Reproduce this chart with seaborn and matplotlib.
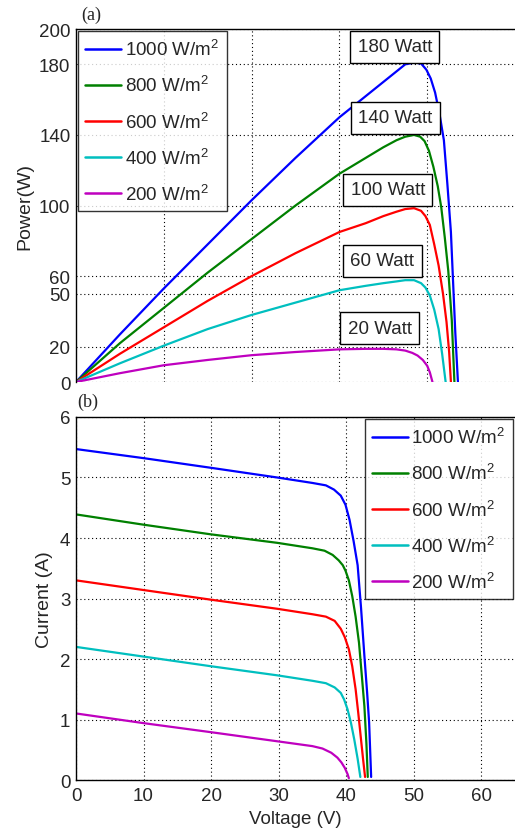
import pandas as pd
import matplotlib.pyplot as plt
import seaborn as sns

sns.set_theme(style="white")
plt.rcParams["font.family"] = ["Liberation Sans", "DejaVu Sans"]
plt.rcParams["mathtext.fontset"] = "custom"
plt.rcParams["mathtext.rm"] = "Liberation Sans"

labels = ["1000 W/m$^2$", "800 W/m$^2$", "600 W/m$^2$", "400 W/m$^2$", "200 W/m$^2$"]
colors = [(0, 0, 1), (0, 0.5, 0), (1, 0, 0), (0, 0.75, 0.75), (0.75, 0, 0.75)]

# P-V curves (voltage V, power W)
pv_v_1000 = [0, 5, 10, 15, 20, 25, 30, 33, 35, 36.5, 37.5, 38.5, 39.3, 39.9, 40.4, 40.9, 41.4, 41.9, 42.3, 42.7, 43.2, 43.5]
pv_p_1000 = [0, 27, 53, 78, 103, 127, 150, 162, 170, 176, 180, 181, 180.5, 177, 172, 164, 152, 137, 112, 85, 28, 0]
pv_v_800 = [0, 5, 10, 15, 20, 25, 30, 33, 35, 36.5, 37.5, 38.5, 39.2, 39.7, 40.2, 40.7, 41.2, 41.6, 42.0, 42.4, 42.8, 43.1]
pv_p_800 = [0, 22, 42, 62, 81, 100, 118, 127, 133, 137, 139, 140, 139, 136.5, 131, 122, 111, 99, 82, 63, 35, 0]
pv_v_600 = [0, 5, 10, 15, 20, 25, 30, 33, 35, 36.5, 37.5, 38.5, 39.3, 39.8, 40.3, 40.8, 41.3, 41.8, 42.2, 42.5, 42.7]
pv_p_600 = [0, 16, 31, 46, 60, 73, 85, 90, 94, 96.5, 98, 98.5, 97, 94, 89, 78, 66, 50, 34, 17, 0]
pv_v_400 = [0, 5, 10, 15, 20, 25, 30, 33, 35, 36.5, 37.5, 38.5, 39.3, 39.8, 40.3, 40.8, 41.3, 41.7, 42.1]
pv_p_400 = [0, 10.6, 20.6, 30, 38, 45, 52, 54.5, 56, 57, 57.7, 57.7, 56, 53.5, 49, 41, 30, 16, 0]
pv_v_200 = [0, 5, 10, 15, 20, 25, 30, 33, 35, 36.5, 37.5, 38.3, 38.9, 39.5, 40.0, 40.3, 40.6]
pv_p_200 = [0, 5, 9.5, 12.5, 15.2, 17, 18.5, 18.8, 18.8, 18.5, 17.8, 16.5, 15, 12.5, 9.2, 5.5, 0]

# I-V curves (voltage V, current A)
iv_v_1000 = [0, 10, 20, 29.8, 35, 37, 38.2, 39.2, 39.9, 40.5, 41.1, 41.7, 42.2, 42.7, 43.1, 43.4, 43.7]
iv_i_1000 = [5.47, 5.32, 5.16, 5.0, 4.91, 4.87, 4.8, 4.7, 4.55, 4.3, 3.95, 3.55, 2.85, 2.05, 1.45, 0.95, 0.05]
iv_v_800 = [0, 10, 20, 29.8, 35, 36.8, 38, 38.9, 39.5, 39.9, 40.4, 40.9, 41.4, 41.9, 42.3, 42.7, 43.0, 43.2]
iv_i_800 = [4.39, 4.22, 4.06, 3.92, 3.83, 3.79, 3.72, 3.63, 3.55, 3.46, 3.3, 3.04, 2.7, 2.27, 1.75, 1.22, 0.6, 0.05]
iv_v_600 = [0, 10, 20, 29.8, 35, 37, 38.3, 39.2, 39.8, 40.4, 40.9, 41.4, 41.8, 42.2, 42.5, 42.8]
iv_i_600 = [3.3, 3.14, 2.98, 2.83, 2.74, 2.7, 2.63, 2.5, 2.36, 2.16, 1.88, 1.5, 1.1, 0.67, 0.35, 0.05]
iv_v_400 = [0, 10, 20, 29.8, 35, 37, 38.3, 39.2, 39.7, 40.2, 40.7, 41.2, 41.7, 42.1]
iv_i_400 = [2.2, 2.04, 1.88, 1.73, 1.64, 1.6, 1.53, 1.44, 1.33, 1.17, 0.95, 0.67, 0.35, 0.05]
iv_v_200 = [0, 10, 20, 29.8, 35, 36.5, 37.8, 38.7, 39.3, 39.8, 40.2, 40.4]
iv_i_200 = [1.1, 0.94, 0.79, 0.64, 0.56, 0.52, 0.45, 0.37, 0.29, 0.2, 0.1, 0.03]

# peak power annotations (text, voltage, power)
ann_text = ["180 Watt", "140 Watt", "100 Watt", "60 Watt", "20 Watt"]
ann_x = [36.3, 36.4, 35.5, 34.9, 34.6]
ann_y = [190, 149.6, 108.8, 68.6, 30.6]

pv = pd.concat([
    pd.DataFrame({"V": v, "P": p, "G": lab})
    for v, p, lab in zip([pv_v_1000, pv_v_800, pv_v_600, pv_v_400, pv_v_200],
                         [pv_p_1000, pv_p_800, pv_p_600, pv_p_400, pv_p_200], labels)
])
iv = pd.concat([
    pd.DataFrame({"V": v, "I": i, "G": lab})
    for v, i, lab in zip([iv_v_1000, iv_v_800, iv_v_600, iv_v_400, iv_v_200],
                         [iv_i_1000, iv_i_800, iv_i_600, iv_i_400, iv_i_200], labels)
])
palette = dict(zip(labels, colors))

fig = plt.figure(figsize=(5.15, 8.37), dpi=100)
ax1 = fig.add_axes([0.1476, 0.5424, 0.8524, 0.4217])
ax2 = fig.add_axes([0.1476, 0.0669, 0.8524, 0.4337])

sns.lineplot(data=pv, x="V", y="P", hue="G", palette=palette, sort=False,
             estimator=None, lw=1.6, ax=ax1, legend=False)
sns.lineplot(data=iv, x="V", y="I", hue="G", palette=palette, sort=False,
             estimator=None, lw=1.6, ax=ax2, legend=False)

grid_kw = dict(color="black", linestyle=(0, (1, 2.5)), linewidth=0.8)

ax1.set_xlim(0, 50)
ax1.set_ylim(0, 200)
ax1.set_xticks([10, 20, 30, 40])
ax1.set_xticklabels([])
ax1.set_yticks([0, 20, 50, 60, 100, 140, 180, 200])
ax1.grid(True, **grid_kw)
ax1.set_xlabel("")
ax1.set_ylabel("Power(W)", fontsize=14)
ax1.yaxis.set_label_coords(-0.098, 0.5)
ax1.spines["bottom"].set_visible(False)
ax1.spines["right"].set_visible(False)

ax2.set_xlim(0, 65)
ax2.set_ylim(0, 6)
ax2.set_xticks(range(0, 70, 10))
ax2.set_yticks(range(0, 7))
ax2.grid(True, **grid_kw)
ax2.set_xlabel("Voltage (V)", fontsize=13.5, labelpad=4)
ax2.set_ylabel("Current (A)", fontsize=14)
ax2.yaxis.set_label_coords(-0.052, 0.5)
ax2.spines["right"].set_visible(False)

for ax in (ax1, ax2):
    ax.set_axisbelow(True)
    ax.tick_params(labelsize=13.5, length=0)
    ax.tick_params(axis="x", pad=5)
    ax.tick_params(axis="y", pad=4)
    for s in ax.spines.values():
        s.set_color("black")
        s.set_linewidth(1.0)
    handles = [plt.Line2D([], [], color=c, lw=1.8) for c in colors]
    loc = "upper left" if ax is ax1 else "upper right"
    leg = ax.legend(handles, labels, loc=loc, fontsize=13.5, frameon=True,
                    fancybox=False, edgecolor="black", handlelength=1.9,
                    handletextpad=0.2, labelspacing=0.82, borderpad=0.4,
                    borderaxespad=0.1)
    leg.get_frame().set_linewidth(1.0)

for t, x, y in zip(ann_text, ann_x, ann_y):
    ax1.text(x, y, t, fontsize=13.5, ha="center", va="center",
             bbox=dict(boxstyle="square,pad=0.4", fc="white", ec="black", lw=1.0))

fig.text(0.157, 0.992, "(a)", family="Liberation Serif", fontsize=13, va="top")
fig.text(0.150, 0.530, "(b)", family="Liberation Serif", fontsize=13, va="top")

fig.savefig("out.png", dpi=100)
plt.close(fig)
